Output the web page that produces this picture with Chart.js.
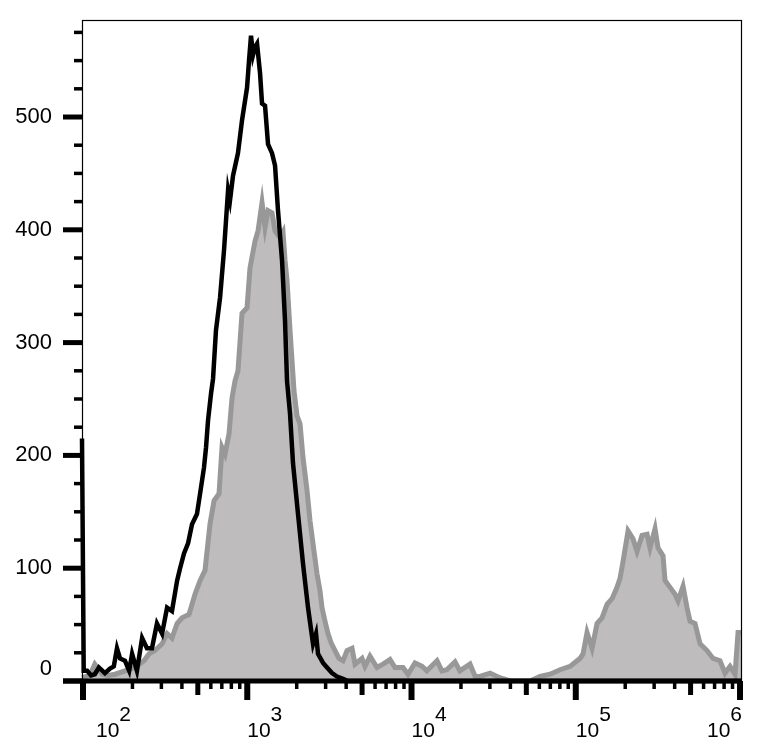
<!DOCTYPE html>
<html>
<head>
<meta charset="utf-8">
<script src="https://cdn.jsdelivr.net/npm/chart.js@4"></script>
<style>
  html, body { margin: 0; padding: 0; background: #fff; }
  #wrap { width: 769px; height: 756px; position: relative; }
</style>
</head>
<body>
<div id="wrap"><canvas id="histo"></canvas></div>
<script>
// unstained / control (black outline)
const blackX = [98.6, 101, 106, 112, 118, 125, 136, 146, 154, 161, 168, 180, 191, 199, 213, 229, 245, 263, 282, 303,
  325, 348, 374, 390, 412, 436, 461, 494, 516, 545, 561, 577, 602, 619, 645, 683, 722, 764, 785, 819,
  878, 929, 997, 1025, 1054, 1084, 1115, 1147, 1196, 1230, 1283, 1338, 1415, 1476, 1539, 1628, 1698, 1746, 1821, 1899,
  2037, 2185, 2344, 2514, 2622, 2696, 2893, 3059, 3281, 3519, 3828, 4106, 1028000];
const blackY = [215, 9, 9, 5, 6, 12, 7, 11, 13, 29, 20, 18, 9, 24, 9, 38, 29, 29, 51, 42,
  65, 62, 89, 100, 113, 122, 139, 148, 166, 189, 207, 231, 255, 268, 311, 340, 382, 435, 426, 448,
  468, 497, 526, 550, 572, 555, 562, 565, 539, 512, 510, 476, 468, 457, 417, 373, 319, 266, 237, 193,
  148, 104, 65, 33, 42, 24, 16, 12, 7, 4, 2, 0, 0];

// stained sample (grey filled)
const grayX = [98.6, 110, 118, 131, 142, 157, 180, 207, 235, 252, 274, 303, 325, 348, 374, 401, 442, 481, 516, 553,
  593, 628, 673, 702, 732, 774, 808, 842, 878, 929, 997, 1039, 1115, 1163, 1230, 1283, 1338, 1415, 1476, 1583,
  1651, 1698, 1746, 1821, 1926, 2009, 2095, 2185, 2311, 2410, 2549, 2659, 2773, 2852, 2974, 3102, 3235, 3422, 3619, 3828,
  4049, 4343, 4529, 4995, 5210, 5588, 6165, 6707, 7398, 7935, 8877, 9521, 10500, 11600, 12400, 14300, 15300, 16400, 18400, 19700,
  22700, 24400, 26100, 30100, 33200, 36100, 39800, 52700, 60600, 69700, 80200, 92300, 101800, 106100, 110700, 117100, 125600, 134800, 144500, 155000,
  166300, 178300, 186000, 194000, 208100, 223200, 236000, 253200, 271600, 283200, 303800, 316800, 339800, 349500, 374900, 402100, 419400, 449800, 475800, 496200,
  532200, 570900, 629700, 685000, 755300, 810200, 869400, 932300, 972400, 1028000];
const grayY = [3, 5, 15, 6, 5, 6, 9, 12, 18, 24, 27, 33, 42, 38, 51, 56, 59, 77, 89, 98,
  139, 160, 166, 207, 201, 219, 251, 266, 275, 326, 331, 366, 390, 399, 424, 402, 417, 415, 399, 393,
  398, 373, 355, 311, 257, 235, 228, 198, 169, 142, 115, 95, 80, 65, 53, 42, 34, 27, 20, 18,
  27, 29, 15, 20, 13, 22, 12, 15, 19, 12, 12, 6, 16, 13, 9, 18, 9, 10, 17, 9,
  15, 4, 4, 7, 4, 2, 0, 0, 4, 6, 10, 13, 18, 20, 24, 43, 29, 51, 56, 68,
  73, 83, 91, 106, 133, 126, 115, 129, 130, 118, 135, 118, 111, 89, 83, 77, 71, 84, 65, 53,
  51, 33, 27, 20, 18, 7, 13, 6, 43, 43];

// axes
const yMajor = [0, 100, 200, 300, 400, 500];
const yMinor = [25, 50, 75, 125, 150, 175, 225, 250, 275, 325, 350, 375, 425, 450, 475, 525, 550, 575];
const xDecades = [100, 1000, 10000, 100000, 1000000];
const xExponents = ['2', '3', '4', '5', '6'];

const FONT_Y = '22px "Liberation Sans", Arial, sans-serif';
const FONT_X = '21px "Liberation Sans", Arial, sans-serif';

function seg(ctx, x1, y1, x2, y2, w) {
  ctx.lineWidth = w;
  ctx.beginPath();
  ctx.moveTo(x1, y1);
  ctx.lineTo(x2, y2);
  ctx.stroke();
}

const flowAxes = {
  id: 'flowAxes',
  afterDraw(chart) {
    const {ctx, chartArea: a, scales: {x, y}} = chart;
    ctx.save();
    ctx.strokeStyle = '#000';
    ctx.fillStyle = '#000';
    ctx.lineCap = 'butt';

    // frame
    ctx.lineWidth = 1.2;
    ctx.strokeRect(a.left + 0.5, a.top + 0.5, a.right - a.left - 1, a.bottom - a.top);

    // y ticks
    yMinor.forEach(v => {
      const py = y.getPixelForValue(v);
      seg(ctx, a.left - 8, py, a.left, py, 3.5);
    });
    yMajor.forEach(v => {
      const py = y.getPixelForValue(v);
      seg(ctx, a.left - 19, py, a.left, py, 5);
    });

    // bottom axis line
    const y0 = y.getPixelForValue(0);
    seg(ctx, a.left - 19, y0, a.right, y0, 5);

    // x ticks
    xDecades.forEach((d, i) => {
      const px = x.getPixelForValue(d);
      seg(ctx, px, y0, px, y0 + 19, 6);
      if (i === xDecades.length - 1) return;
      for (let m = 2; m <= 9; m++) {
        const mx = x.getPixelForValue(d * m);
        if (m === 5) seg(ctx, mx, y0, mx, y0 + 14, 5);
        else seg(ctx, mx, y0, mx, y0 + 8, 3.5);
      }
    });

    // y labels
    ctx.font = FONT_Y;
    ctx.textAlign = 'right';
    ctx.textBaseline = 'middle';
    yMajor.forEach(v => {
      const py = Math.min(y.getPixelForValue(v), a.bottom - 12);
      ctx.fillText(String(v), 52, py);
    });

    // x labels: 10 with raised exponent
    ctx.font = FONT_X;
    ctx.textAlign = 'left';
    ctx.textBaseline = 'alphabetic';
    xDecades.forEach((d, i) => {
      const wBase = ctx.measureText('10').width;
      const wExp = ctx.measureText(xExponents[i]).width;
      let lx = Math.max(x.getPixelForValue(d), a.left + 14);
      lx = Math.min(lx, a.right - wBase - wExp);
      ctx.fillText('10', lx, 737);
      ctx.fillText(xExponents[i], lx + wBase, 721);
    });
    ctx.restore();
  }
};

const toPts = (xs, ys) => xs.map((v, i) => ({x: v, y: ys[i]}));

new Chart(document.getElementById('histo'), {
  type: 'line',
  data: {
    datasets: [
      {
        label: 'control',
        data: toPts(blackX, blackY),
        borderColor: '#000',
        borderWidth: 4.5,
        pointRadius: 0,
        tension: 0,
        fill: false,
        clip: 4
      },
      {
        label: 'stained',
        data: toPts(grayX, grayY),
        borderColor: 'rgb(152,152,152)',
        backgroundColor: 'rgb(190,188,189)',
        borderWidth: 5,
        pointRadius: 0,
        tension: 0,
        fill: 'origin',
        clip: 2
      }
    ]
  },
  options: {
    responsive: true,
    maintainAspectRatio: false,
    animation: false,
    layout: { padding: { left: 82, right: 27, top: 20, bottom: 75 } },
    plugins: { legend: { display: false }, tooltip: { enabled: false } },
    scales: {
      x: { type: 'logarithmic', min: 98.6, max: 1028000, display: false },
      y: { type: 'linear', min: 0, max: 586, display: false }
    }
  },
  plugins: [flowAxes]
});
</script>
</body>
</html>
